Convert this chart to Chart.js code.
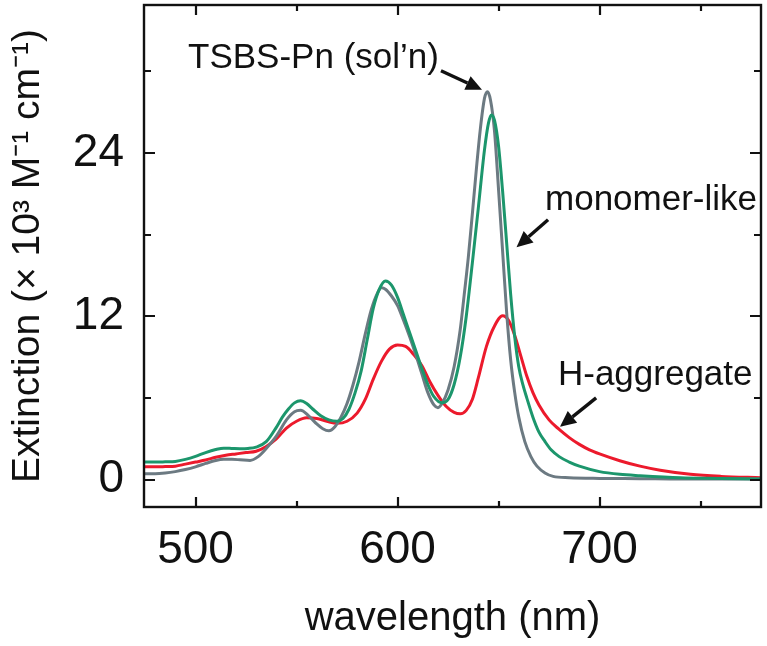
<!DOCTYPE html>
<html><head><meta charset="utf-8">
<script src="https://cdn.jsdelivr.net/npm/chart.js@4.4.0/dist/chart.umd.min.js"></script>
<style>html,body{margin:0;padding:0;background:#fff;overflow:hidden}#c{display:block}</style>
</head><body>
<canvas id="c" width="767" height="646"></canvas>
<script>
// ---- data ----
const solnNm  = [475,480,485,490,495,500,505,510,514,518,522,527,531,535,540,545,549,552,556,560,563,566,569,572,575,578,581,584,587,590,592,594,597,600,603,606,609,612,615,618,620,622,625,628,631,633,635,637,639,641,643,644.5,646,648,650,652,654,656,658,660,663,666,669,673,677,685,700,720,740,760,779.9];
const solnVal = [0.45,0.45,0.5,0.6,0.75,0.95,1.2,1.42,1.5,1.5,1.47,1.42,1.7,2.3,3.2,4.4,5.0,5.1,4.7,4.1,3.75,3.6,3.9,4.6,5.6,7.0,8.7,10.7,12.5,13.7,14.1,14.0,13.5,12.8,11.7,10.5,9.2,7.8,6.4,5.5,5.3,5.6,6.6,8.3,11.0,13.6,16.3,19.5,22.8,25.8,28.0,28.5,27.9,25.6,21.3,16.8,12.3,8.8,6.4,4.6,2.8,1.7,1.0,0.5,0.25,0.15,0.1,0.08,0.05,0.05,0.05];

const monoNm  = [475,480,485,490,495,500,505,510,514,518,522,526,530,535,540,543,546,549,552,555,558,562,566,570,573,576,579,582,585,588,591,594,597,600,603,606,609,612,615,618,622,625,628,631,634,637,640,643,645,646.5,648,650,652,654,656,658,660,662,664,667,670,673,676,680,685,690,700,710,720,740,760,779.9];
const monoVal = [1.3,1.3,1.32,1.35,1.5,1.72,2.0,2.22,2.32,2.3,2.28,2.3,2.4,2.8,3.85,4.6,5.2,5.65,5.8,5.6,5.2,4.7,4.4,4.3,4.5,5.2,6.4,8.0,10.3,12.6,14.0,14.6,14.3,13.4,12.1,10.8,9.5,8.2,7.0,6.1,5.65,5.9,7.0,9.0,12.0,15.9,20.0,24.2,26.2,26.8,26.4,24.5,21.2,17.4,13.6,10.5,8.3,7.0,6.0,4.6,3.5,2.8,2.2,1.7,1.3,1.0,0.6,0.4,0.3,0.15,0.1,0.05];

const aggNm   = [475,480,485,490,495,500,505,510,515,520,525,530,535,540,545,550,555,560,565,570,575,580,584,588,592,596,600,604,608,612,616,620,624,628,631,634,637,640,644,648,652,655,658,661,664,667,670,675,680,685,690,695,700,710,720,730,745,760,779.9];
const aggVal  = [0.95,0.95,0.97,1.0,1.15,1.3,1.45,1.65,1.8,1.9,2.0,2.1,2.45,3.0,3.8,4.3,4.55,4.5,4.3,4.15,4.3,4.9,5.9,7.4,8.7,9.6,9.9,9.8,9.2,8.4,7.2,6.2,5.4,4.95,4.85,5.1,5.9,7.5,9.8,11.3,12.05,11.7,10.6,9.1,7.6,6.4,5.5,4.4,3.7,3.1,2.6,2.2,1.9,1.4,1.0,0.7,0.4,0.25,0.15];

const seriesNames = ['TSBS-Pn (sol\u2019n)', 'monomer-like', 'H-aggregate'];
const xMajorTicks = [500, 600, 700];
const xMinorTicks = [550, 650, 750];
const yMajorTicks = [0, 12, 24];
const yMinorTicks = [6, 18, 30];
const xTitle = 'wavelength (nm)';
const yTitle = 'Extinction (\u00d7 10\u00b3 M\u207b\u00b9 cm\u207b\u00b9)';

const toPts = (xs, ys) => xs.map((v, i) => ({x: v, y: ys[i]}));
const FONT = '"Liberation Sans", Arial, Helvetica, sans-serif';

const framePlugin = {
  id: 'frame',
  afterDatasetsDraw(chart, args, o) {
    const {ctx, chartArea: a, scales: {x, y}} = chart;
    ctx.save();
    ctx.strokeStyle = '#111';
    ctx.lineWidth = 2.2;
    ctx.beginPath();
    const xt = (v, len) => { const p = Math.round(x.getPixelForValue(v)) ; ctx.moveTo(p, a.bottom); ctx.lineTo(p, a.bottom - len); ctx.moveTo(p, a.top); ctx.lineTo(p, a.top + len); };
    const yt = (v, len) => { const p = Math.round(y.getPixelForValue(v)); ctx.moveTo(a.left, p); ctx.lineTo(a.left + len, p); ctx.moveTo(a.right, p); ctx.lineTo(a.right - len, p); };
    xMajorTicks.forEach(v => xt(v, o.major));
    xMinorTicks.forEach(v => xt(v, o.minor));
    yMajorTicks.forEach(v => yt(v, o.major + 1));
    yMinorTicks.forEach(v => yt(v, o.minor + 1));
    ctx.stroke();
    ctx.lineWidth = 2.4;
    ctx.strokeRect(a.left, a.top, a.right - a.left, a.bottom - a.top);
    ctx.restore();
  }
};

const notesPlugin = {
  id: 'notes',
  afterDatasetsDraw(chart, args, o) {
    const {ctx, scales: {x, y}} = chart;
    ctx.save();
    ctx.fillStyle = '#111';
    ctx.strokeStyle = '#111';
    ctx.font = o.size + 'px ' + FONT;
    ctx.textBaseline = 'alphabetic';
    ctx.textAlign = 'left';
    o.items.forEach(it => {
      ctx.fillText(seriesNames[it.series], x.getPixelForValue(it.tx), y.getPixelForValue(it.ty));
      const x0 = x.getPixelForValue(it.from[0]), y0 = y.getPixelForValue(it.from[1]);
      const x1 = x.getPixelForValue(it.to[0]), y1 = y.getPixelForValue(it.to[1]);
      const ang = Math.atan2(y1 - y0, x1 - x0);
      const hl = 16, hw = 7.5;
      const bx = x1 - hl * Math.cos(ang), by = y1 - hl * Math.sin(ang);
      ctx.lineWidth = 3.4;
      ctx.beginPath(); ctx.moveTo(x0, y0); ctx.lineTo(bx, by); ctx.stroke();
      ctx.beginPath();
      ctx.moveTo(x1, y1);
      ctx.lineTo(bx + hw * Math.sin(ang), by - hw * Math.cos(ang));
      ctx.lineTo(bx - hw * Math.sin(ang), by + hw * Math.cos(ang));
      ctx.closePath(); ctx.fill();
    });
    ctx.restore();
  }
};

new Chart(document.getElementById('c'), {
  type: 'line',
  data: {
    datasets: [
      {label: seriesNames[1], data: toPts(monoNm, monoVal), borderColor: 'rgb(28,150,108)'},
      {label: seriesNames[0], data: toPts(solnNm, solnVal), borderColor: 'rgb(108,122,130)'},
      {label: seriesNames[2], data: toPts(aggNm, aggVal), borderColor: 'rgb(236,26,44)'}
    ]
  },
  options: {
    responsive: false,
    animation: false,
    events: [],
    datasets: {line: {pointRadius: 0, borderWidth: 3, fill: false, cubicInterpolationMode: 'monotone'}},
    layout: {padding: {top: 5, right: 6, left: 0, bottom: 0}},
    plugins: {
      legend: {display: false},
      tooltip: {enabled: false},
      frame: {major: 10, minor: 6},
      notes: {
        size: 35,
        items: [
          {series: 0, tx: 496.3, ty: 30.27, from: [621.5, 30.05], to: [641.8, 28.66]},
          {series: 1, tx: 673.0, ty: 19.84, from: [674.5, 19.1], to: [658.9, 17.08]},
          {series: 2, tx: 679.4, ty: 6.98, from: [698.3, 6.02], to: [680.4, 3.89]}
        ]
      }
    },
    scales: {
      x: {
        type: 'linear', min: 474.5, max: 779.9,
        afterBuildTicks: s => { s.ticks = xMajorTicks.map(v => ({value: v})); },
        afterFit: s => { s.height = 139; s.paddingLeft = 0; s.paddingRight = 0; },
        grid: {display: false, drawTicks: false},
        border: {display: false},
        ticks: {color: '#111', font: {family: FONT, size: 46}, padding: 16, maxRotation: 0, autoSkip: false, callback: v => String(v)},
        title: {display: true, text: xTitle, color: '#111', font: {family: FONT, size: 40}, padding: {top: 0, bottom: 3}}
      },
      y: {
        type: 'linear', min: -2, max: 34.88,
        afterBuildTicks: s => { s.ticks = yMajorTicks.map(v => ({value: v})); },
        afterFit: s => { s.width = 144; s.paddingTop = 0; s.paddingBottom = 0; },
        grid: {display: false, drawTicks: false},
        border: {display: false},
        ticks: {color: '#111', font: {family: FONT, size: 46}, padding: 20, autoSkip: false, callback: v => String(v)},
        title: {display: true, text: yTitle, color: '#111', font: {family: FONT, size: 39}, padding: {top: 5, bottom: 0}}
      }
    }
  },
  plugins: [framePlugin, notesPlugin]
});
</script>
</body></html>
